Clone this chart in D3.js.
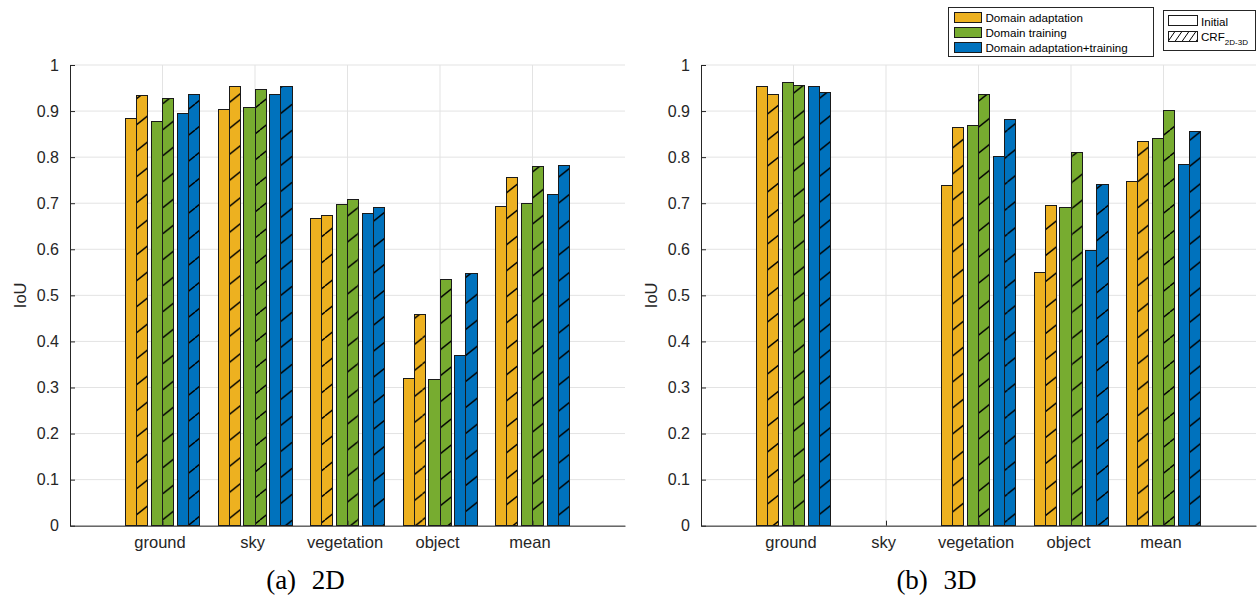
<!DOCTYPE html>
<html><head><meta charset="utf-8">
<script src="https://cdn.jsdelivr.net/npm/d3@7"></script>
<style>body{margin:0;background:#fff}svg{display:block}</style>
</head><body>
<svg id="c" width="1257" height="596"></svg>
<script>
const categories = ["ground","sky","vegetation","object","mean"];
const yTicks = [0,0.1,0.2,0.3,0.4,0.5,0.6,0.7,0.8,0.9,1];
const seriesNames = ["Domain adaptation","Domain training","Domain adaptation+training"];
const seriesColors = ["#EDB120","#77AC30","#0072BD"];
// 2D
const ada2D_init  = [0.884,0.904,0.666,0.320,0.693];
const ada2D_crf   = [0.934,0.953,0.673,0.459,0.755];
const trn2D_init  = [0.877,0.908,0.697,0.317,0.699];
const trn2D_crf   = [0.927,0.947,0.708,0.534,0.779];
const both2D_init = [0.895,0.935,0.678,0.369,0.719];
const both2D_crf  = [0.936,0.953,0.690,0.548,0.781];
// 3D
const ada3D_init  = [0.953,0,0.738,0.550,0.747];
const ada3D_crf   = [0.937,0,0.865,0.696,0.833];
const trn3D_init  = [0.962,0,0.869,0.690,0.840];
const trn3D_crf   = [0.956,0,0.936,0.810,0.901];
const both3D_init = [0.953,0,0.802,0.597,0.785];
const both3D_crf  = [0.941,0,0.882,0.740,0.855];

const svg = d3.select("#c");
const defs = svg.append("defs");
const hatchH = 26, hatchW = 32.5;
function makeHatch(id, color, w, h, sw){
  const p = defs.append("pattern").attr("id",id).attr("patternUnits","userSpaceOnUse")
    .attr("width",w).attr("height",h);
  p.append("rect").attr("width",w).attr("height",h).attr("fill",color);
  [-1,0,1].forEach(k=>{
    p.append("line").attr("x1",k*w).attr("y1",h).attr("x2",(k+1)*w).attr("y2",0)
      .attr("stroke","#000").attr("stroke-width",sw);
  });
}
seriesColors.forEach((c,i)=>makeHatch("h"+i,c,hatchW,hatchH,1.4));
makeHatch("hLeg","#fff",7,10,1);

const font = "'Liberation Sans', Arial, Helvetica, sans-serif";
const axisColor = "#262626";

function drawPanel(x0, x1, data, caption){
  const yTop = 65, yBot = 525.7;
  const x = d3.scaleLinear().domain([0,6]).range([x0,x1]);
  const y = d3.scaleLinear().domain([0,1]).range([yBot,yTop]);
  const g = svg.append("g");
  // grid
  g.append("g").selectAll("line").data(yTicks).join("line")
    .attr("x1",x0).attr("x2",x1).attr("y1",d=>y(d)).attr("y2",d=>y(d))
    .attr("stroke","#e3e3e3").attr("stroke-width",1);
  g.append("g").selectAll("line").data(categories).join("line")
    .attr("x1",(d,i)=>x(i+1)).attr("x2",(d,i)=>x(i+1)).attr("y1",yTop).attr("y2",yBot)
    .attr("stroke","#e3e3e3").attr("stroke-width",1);
  // bars
  const bw = 0.119, pairOff = [-0.281,0,0.281];
  data.forEach((pair,s)=>{
    pair.forEach((vals,k)=>{
      g.append("g").selectAll("rect").data(vals).join("rect")
        .attr("x",(d,i)=>x(i+1+pairOff[s]+(k===0?-bw:0)))
        .attr("width",x(bw)-x(0))
        .attr("y",d=>y(d))
        .attr("height",d=>Math.max(0,yBot-y(d)))
        .attr("fill",k===0?seriesColors[s]:`url(#h${s})`)
        .attr("stroke","#1a1a1a").attr("stroke-width",1)
        .attr("shape-rendering","crispEdges");
    });
  });
  // axes
  const yAxis = d3.axisLeft(y).tickValues(yTicks).tickFormat(d=>d3.format("")(+d.toFixed(1))).tickSizeInner(-5).tickSizeOuter(0).tickPadding(11);
  const ya = g.append("g").attr("transform",`translate(${x0},0)`).call(yAxis);
  ya.select(".domain").attr("stroke",axisColor);
  ya.selectAll(".tick line").attr("stroke",axisColor);
  ya.selectAll("text").attr("font-family",font).attr("font-size",16).attr("fill",axisColor);
  const xAxis = d3.axisBottom(x).tickValues([1,2,3,4,5]).tickFormat((d)=>categories[d-1]).tickSizeInner(-5).tickSizeOuter(0).tickPadding(11);
  const xa = g.append("g").attr("transform",`translate(0,${yBot})`).call(xAxis);
  xa.select(".domain").attr("stroke",axisColor);
  xa.selectAll(".tick line").attr("stroke",axisColor);
  xa.selectAll("text").attr("font-family",font).attr("font-size",16.5).attr("fill",axisColor)
    .attr("dx",-3);
  // y label
  g.append("text").attr("transform",`translate(${x0-44},${(yTop+yBot)/2}) rotate(-90)`)
    .attr("text-anchor","middle").attr("font-family",font).attr("font-size",16.5).attr("fill",axisColor).text("IoU");
  // caption
  g.append("text").attr("x",(x0+x1)/2-42).attr("y",589).attr("text-anchor","middle")
    .attr("font-family","'Liberation Serif','DejaVu Serif',serif").attr("font-size",27)
    .attr("word-spacing",9).attr("fill","#000").text(caption);
}

drawPanel(70, 625, [[ada2D_init,ada2D_crf],[trn2D_init,trn2D_crf],[both2D_init,both2D_crf]], "(a) 2D");
drawPanel(701, 1256, [[ada3D_init,ada3D_crf],[trn3D_init,trn3D_crf],[both3D_init,both3D_crf]], "(b) 3D");

// legend 1
const L = svg.append("g");
L.append("rect").attr("x",948.5).attr("y",7.5).attr("width",205).attr("height",49).attr("fill","#fff").attr("stroke","#262626");
seriesNames.forEach((n,i)=>{
  const yy = 12 + i*15;
  L.append("rect").attr("x",954.5).attr("y",yy+0.5).attr("width",27).attr("height",10).attr("fill",seriesColors[i]).attr("stroke","#1a1a1a");
  L.append("text").attr("x",985.5).attr("y",yy+9.5).attr("font-family",font).attr("font-size",11.6).attr("fill","#000").text(n);
});
// legend 2
const L2 = svg.append("g");
L2.append("rect").attr("x",1163.5).attr("y",10.5).attr("width",92).attr("height",40).attr("fill","#fff").attr("stroke","#262626");
L2.append("rect").attr("x",1168.5).attr("y",15.5).attr("width",29).attr("height",10).attr("fill","#fff").attr("stroke","#1a1a1a");
L2.append("text").attr("x",1201).attr("y",25.5).attr("font-family",font).attr("font-size",11.6).text("Initial");
L2.append("rect").attr("x",1168.5).attr("y",31.5).attr("width",29).attr("height",10).attr("fill","url(#hLeg)").attr("stroke","#1a1a1a");
const t = L2.append("text").attr("x",1201).attr("y",41).attr("font-family",font).attr("font-size",11.6);
t.append("tspan").text("CRF");
t.append("tspan").attr("dy",4).attr("font-size",8).text("2D-3D");
</script>
</body></html>
